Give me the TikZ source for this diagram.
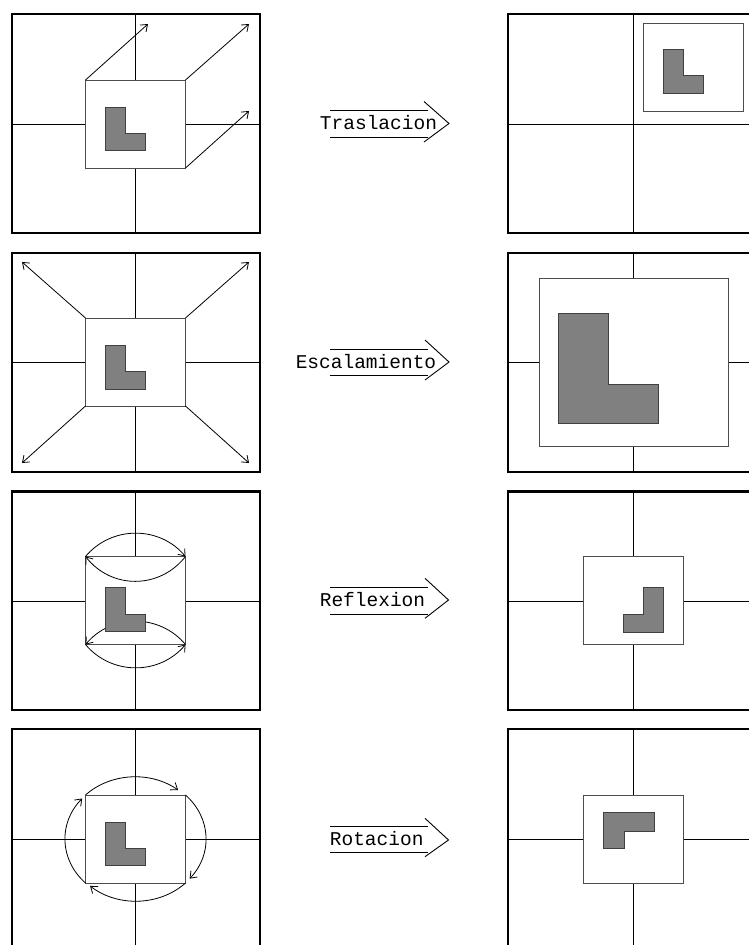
\documentclass[tikz,border=0pt]{standalone}
\usepackage{fontspec}
\setmonofont{Liberation Mono}
\usetikzlibrary{arrows.meta}

\begin{document}
\begin{tikzpicture}[x=1pt, y=-1pt, line join=miter,
  marco/.style={line width=2.8pt},
  eje/.style={line width=0.9pt},
  caja/.style={draw=black!70, line width=1pt, fill=white, inner sep=0pt, outer sep=0pt},
  figura/.style={draw=black!75, line width=1pt, fill=black!50},
  flecha/.style={line width=0.8pt, -{Straight Barb[length=6pt,width=9pt]}},
  doble/.style={line width=0.9pt},
  etiqueta/.style={inner sep=0pt, font=\ttfamily\fontsize{19.5}{20}\selectfont}]

  %% ════ Traslacion ════
  \draw[marco] (12,14) rectangle (260,233);
  \draw[eje] (12,124) -- (260,124);
  \draw[eje] (135,14) -- (135,233);
  \node[caja, minimum width=100pt, minimum height=88pt] (tcaja) at (135.5,124) {};
  \coordinate (t1) at (148,24);
  \coordinate (t2) at (249,24);
  \coordinate (t3) at (249,111);
  \draw[flecha] (tcaja.north west) -- (t1);
  \draw[flecha] (tcaja.north east) -- (t2);
  \draw[flecha] (tcaja.south east) -- (t3);
  \draw[figura] (105,107) -- (125,107) -- (125,133) -- (145,133) -- (145,150) -- (105,150) -- cycle;

  \node[etiqueta] (trasl) at (378.5,123) {Traslacion};
  \draw[doble] (330,110.5) -- (428,110.5) (330,137) -- (428,137);
  \draw[doble] (424,101.5) -- (449,123.5) -- (424,142);

  \draw[marco] (508,14) rectangle (758,233);
  \draw[eje] (508,124) -- (758,124);
  \draw[eje] (633,14) -- (633,233);
  \node[caja, minimum width=100pt, minimum height=88pt] (tcaja2) at (693,67) {};
  \draw[figura] (663,49) -- (683,49) -- (683,75) -- (703,75) -- (703,93) -- (663,93) -- cycle;

  %% ════ Escalamiento ════
  \draw[marco] (12,253) rectangle (260,472);
  \draw[eje] (12,362) -- (260,362);
  \draw[eje] (135,253) -- (135,472);
  \node[caja, minimum width=100pt, minimum height=88pt] (ecaja) at (135.5,362) {};
  \coordinate (e1) at (22,262);
  \coordinate (e2) at (249,262);
  \coordinate (e3) at (22,463);
  \coordinate (e4) at (249,463);
  \draw[flecha] (ecaja.north west) -- (e1);
  \draw[flecha] (ecaja.north east) -- (e2);
  \draw[flecha] (ecaja.south west) -- (e3);
  \draw[flecha] (ecaja.south east) -- (e4);
  \draw[figura] (105,345) -- (125,345) -- (125,371) -- (145,371) -- (145,389) -- (105,389) -- cycle;

  \node[etiqueta] (escal) at (366,362) {Escalamiento};
  \draw[doble] (330,349) -- (428,349) (330,375) -- (428,375);
  \draw[doble] (425,340) -- (449,362) -- (425,380);

  \draw[marco] (508,253) rectangle (758,472);
  \draw[eje] (508,362) -- (758,362);
  \draw[eje] (633,253) -- (633,472);
  \node[caja, minimum width=189pt, minimum height=168pt] (ecaja2) at (633.5,362) {};
  \draw[figura] (558,313) -- (608,313) -- (608,384) -- (658,384) -- (658,423) -- (558,423) -- cycle;

  %% ════ Reflexion ════
  \draw[marco] (12,491.5) rectangle (260,710);
  \draw[eje] (12,601) -- (260,601);
  \draw[eje] (135,491.5) -- (135,710);
  \node[caja, minimum width=100pt, minimum height=88pt] (rcaja) at (135.5,600.5) {};
  \draw[flecha] (rcaja.north west) .. controls +(26,-31) and +(-26,-31) .. (rcaja.north east);
  \draw[flecha] (rcaja.north east) .. controls +(-26,33) and +(26,33) .. (rcaja.north west);
  \draw[flecha] (rcaja.south east) .. controls +(-26,-31) and +(26,-31) .. (rcaja.south west);
  \draw[flecha] (rcaja.south west) .. controls +(26,31) and +(-26,31) .. (rcaja.south east);
  \draw[figura] (105,587) -- (125,587) -- (125,614) -- (145,614) -- (145,631) -- (105,631) -- cycle;

  \node[etiqueta] (refl) at (372.5,600) {Reflexion};
  \draw[doble] (330,587.3) -- (428,587.3) (330,614) -- (428,614);
  \draw[doble] (425,578.3) -- (448.5,600) -- (425,618.3);

  \draw[marco] (508,491.5) rectangle (758,710);
  \draw[eje] (508,601) -- (758,601);
  \draw[eje] (633,491.5) -- (633,710);
  \node[caja, minimum width=100pt, minimum height=88pt] (rcaja2) at (633,600.5) {};
  \draw[figura] (643,587) -- (663,587) -- (663,632) -- (623,632) -- (623,614) -- (643,614) -- cycle;

  %% ════ Rotacion ════
  \draw[marco] (12,729) rectangle (260,948);
  \draw[eje] (12,839) -- (260,839);
  \draw[eje] (135,729) -- (135,948);
  \node[caja, minimum width=100pt, minimum height=88pt] (ocaja) at (135.5,839) {};
  \draw[flecha] (ocaja.north west) arc[start angle=135, end angle=52, x radius=70pt, y radius=62pt];
  \draw[flecha] (ocaja.north east) arc[start angle=45, end angle=-40, x radius=70pt, y radius=62pt];
  \draw[flecha] (ocaja.south east) arc[start angle=-45, end angle=-131, x radius=70pt, y radius=62pt];
  \draw[flecha] (ocaja.south west) arc[start angle=225, end angle=139, x radius=70pt, y radius=62pt];
  \draw[figura] (105,822) -- (125,822) -- (125,848) -- (145,848) -- (145,865) -- (105,865) -- cycle;

  \node[etiqueta] (rot) at (376.7,839) {Rotacion};
  \draw[doble] (330,826) -- (428,826) (330,852.3) -- (428,852.3);
  \draw[doble] (425,818.3) -- (448.5,840) -- (425,856.7);

  \draw[marco] (508,729) rectangle (758,948);
  \draw[eje] (508,839) -- (758,839);
  \draw[eje] (633,729) -- (633,948);
  \node[caja, minimum width=100pt, minimum height=88pt] (ocaja2) at (633,839) {};
  \draw[figura] (603,812) -- (654,812) -- (654,831) -- (624,831) -- (624,848) -- (603,848) -- cycle;

  % lienzo fijo
  \pgfresetboundingbox
  \path[use as bounding box] (0,0) rectangle (749,945);
\end{tikzpicture}
\end{document}
